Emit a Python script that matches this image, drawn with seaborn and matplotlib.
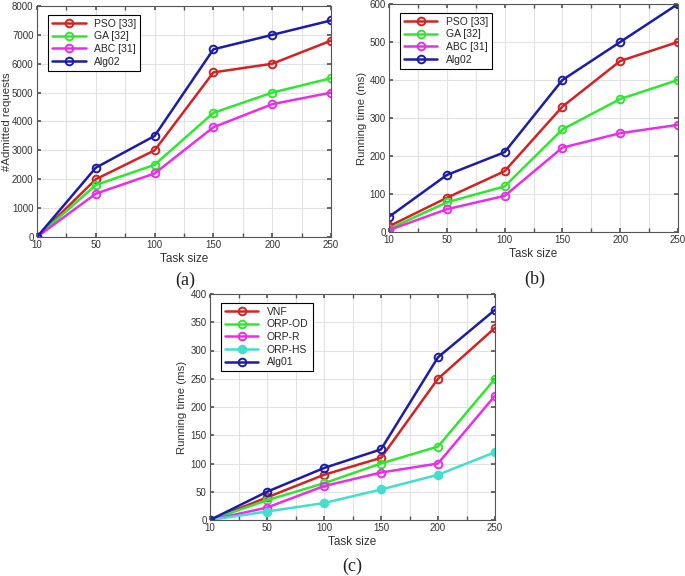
import numpy as np
import pandas as pd
import seaborn as sns
import matplotlib
matplotlib.use('Agg')
import matplotlib.pyplot as plt
from matplotlib.ticker import MultipleLocator

# task sizes (equally spaced categories on x)
tasks = [10, 50, 100, 150, 200, 250]

# (a) admitted requests
a_pso = [0, 2000, 3000, 5700, 6000, 6800]
a_ga = [0, 1800, 2500, 4300, 5000, 5500]
a_abc = [0, 1500, 2200, 3800, 4600, 5000]
a_alg02 = [0, 2400, 3500, 6500, 7000, 7500]

# (b) running time
b_pso = [15, 90, 160, 330, 450, 500]
b_ga = [8, 78, 120, 270, 350, 400]
b_abc = [5, 60, 95, 222, 260, 282]
b_alg02 = [40, 150, 210, 400, 500, 600]

# (c) running time
c_vnf = [0, 40, 80, 110, 250, 340]
c_orp_od = [0, 35, 65, 100, 130, 250]
c_orp_r = [0, 22, 60, 84, 100, 220]
c_orp_hs = [0, 15, 30, 54, 80, 120]
c_alg01 = [0, 50, 92, 125, 288, 372]

colors = {'red': '#d42222', 'green': '#2ee82e', 'magenta': '#e82ee8',
          'cyan': '#3fe0cc', 'blue': '#1c1ca8'}

sns.set_theme(style="whitegrid")
plt.rcParams['font.family'] = ['Liberation Sans', 'DejaVu Sans']

fig = plt.figure(figsize=(6.85, 5.76), dpi=100)
W, H = 685., 576.


def axes_px(x0, y0, x1, y1):
    return fig.add_axes([x0 / W, 1 - y1 / H, (x1 - x0) / W, (y1 - y0) / H])


def draw(ax, series, ymax, ystep, ylabel, ylab_x):
    xs = np.arange(len(tasks))
    for name, vals, col, filled in series:
        sns.lineplot(x=xs, y=vals, ax=ax, color=col, linewidth=1.8, marker='o',
                     markersize=5.5, markerfacecolor=col if filled else 'none',
                     markeredgecolor=col, markeredgewidth=1.4, label=name)
    ax.set_xlim(0, len(tasks) - 1)
    ax.set_ylim(0, ymax)
    ax.set_xticks(xs)
    ax.set_xticklabels([str(t) for t in tasks])
    ax.xaxis.set_minor_locator(MultipleLocator(0.5))
    ax.yaxis.set_major_locator(MultipleLocator(ystep))
    ax.grid(True, which='major', color='#e2e2e2', linewidth=0.8)
    ax.grid(True, which='minor', axis='x', color='#e2e2e2', linewidth=0.8)
    ax.set_facecolor('white')
    for s in ax.spines.values():
        s.set_color('#555555')
        s.set_linewidth(0.8)
    ax.tick_params(axis='both', which='both', direction='in', labelsize=7,
                   labelcolor='#333333', color='#555555', length=3,
                   top=True, right=True, bottom=True, left=True, pad=2.5)
    ax.set_xlabel("Task size", fontsize=8.5, color='#333333', labelpad=2)
    ax.set_ylabel(ylabel, fontsize=8.2, color='#333333')
    # place y label in pixel offset from the left spine
    width_px = ax.get_position().width * W
    ax.yaxis.set_label_coords(ylab_x / width_px, 0.5)
    leg = ax.legend(loc='upper left', fontsize=7.5, frameon=True, fancybox=False,
                    handlelength=3.2, borderpad=0.4, labelspacing=0.25,
                    bbox_to_anchor=(0.02, 0.985))
    leg.get_frame().set_edgecolor('black')
    leg.get_frame().set_linewidth(0.8)
    leg.get_frame().set_alpha(1)


ax_a = axes_px(37, 6, 331, 237)
draw(ax_a, [('PSO [33]', a_pso, colors['red'], False),
            ('GA [32]', a_ga, colors['green'], False),
            ('ABC [31]', a_abc, colors['magenta'], False),
            ('Alg02', a_alg02, colors['blue'], False)],
     8000, 1000, "#Admitted requests", -25)

ax_b = axes_px(389, 4, 678, 232)
draw(ax_b, [('PSO [33]', b_pso, colors['red'], False),
            ('GA [32]', b_ga, colors['green'], False),
            ('ABC [31]', b_abc, colors['magenta'], False),
            ('Alg02', b_alg02, colors['blue'], False)],
     600, 100, "Running time (ms)", -22)

ax_c = axes_px(210, 294, 495, 520)
draw(ax_c, [('VNF', c_vnf, colors['red'], False),
            ('ORP-OD', c_orp_od, colors['green'], False),
            ('ORP-R', c_orp_r, colors['magenta'], False),
            ('ORP-HS', c_orp_hs, colors['cyan'], True),
            ('Alg01', c_alg01, colors['blue'], False)],
     400, 50, "Running time (ms)", -23)

for lab, x, y in [('(a)', 185, 280), ('(b)', 535, 279), ('(c)', 352, 566)]:
    fig.text(x / W, 1 - y / H, lab, ha='center', va='center', fontsize=13,
             family=['Liberation Serif', 'DejaVu Serif'], color='#222222')

fig.savefig("out.png", dpi=100, facecolor='white')
